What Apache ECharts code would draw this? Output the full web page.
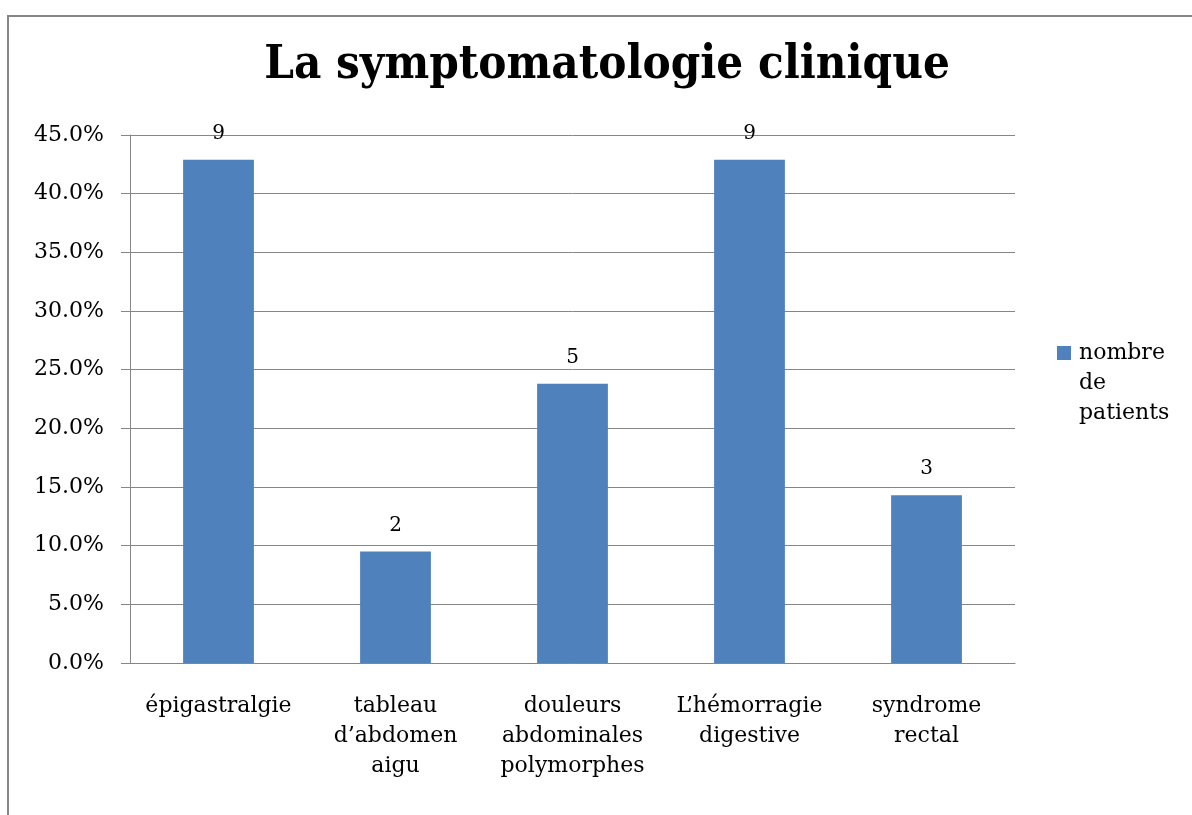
<!DOCTYPE html>
<html>
<head>
<meta charset="utf-8">
<script src="https://cdn.jsdelivr.net/npm/echarts@6/dist/echarts.min.js"></script>
<style>
  html, body { margin: 0; padding: 0; background: #fff; overflow: hidden; }
  #frame { position: absolute; left: 7px; top: 15px; width: 1400px; height: 1000px; border: 2px solid #868686; box-sizing: border-box; }
  #main { position: absolute; left: 0; top: 0; width: 1192px; height: 815px; }
</style>
</head>
<body>
<div id="frame"></div>
<div id="main"></div>
<script>
// données du graphique
const categories = [
  'épigastralgie',
  'tableau\nd\u2019abdomen\naigu',
  'douleurs\nabdominales\npolymorphes',
  'L\u2019hémorragie\ndigestive',
  'syndrome\nrectal'
]
const percentages = [42.9, 9.5, 23.8, 42.9, 14.3]
const patientCounts = [9, 2, 5, 9, 3]
const seriesName = 'nombre\nde\npatients'

const font = 'DejaVu Serif'
const chart = echarts.init(document.getElementById('main'))
chart.setOption({
  backgroundColor: 'transparent',
  animation: false,
  title: {
    text: 'La symptomatologie clinique',
    left: 602,
    textAlign: 'center',
    top: 37,
    textStyle: { fontFamily: 'DejaVu Serif Condensed', fontWeight: 'bold', fontSize: 47, color: '#000' }
  },
  grid: { left: 130, right: 177, top: 135, bottom: 152 },
  legend: {
    left: 1052,
    top: 333,
    itemWidth: 14,
    itemHeight: 74,
    icon: 'path://M0,0H14V14H0Z M0,74L0.01,74',
    textStyle: { fontFamily: font, fontSize: 22, color: '#000', lineHeight: 30, padding: [0, 0, 0, 3] },
    data: [seriesName]
  },
  xAxis: {
    type: 'category',
    data: categories,
    axisLine: { lineStyle: { color: '#868686', width: 1 } },
    axisTick: { length: 9, lineStyle: { color: '#868686' } },
    axisLabel: { fontFamily: font, fontSize: 22, color: '#000', lineHeight: 30, margin: 28, interval: 0 }
  },
  yAxis: {
    type: 'value',
    min: 0,
    max: 45,
    interval: 5,
    axisLine: { show: true, lineStyle: { color: '#868686' } },
    axisTick: { show: true, length: 9, lineStyle: { color: '#868686' } },
    splitLine: { lineStyle: { color: '#868686' } },
    axisLabel: {
      fontFamily: font, fontSize: 22, color: '#000', margin: 26,
      formatter: v => v.toFixed(1) + '%'
    }
  },
  series: [{
    name: seriesName,
    type: 'bar',
    barWidth: '40%',
    data: percentages,
    itemStyle: { color: '#4F81BD' },
    label: {
      show: true,
      position: 'top',
      distance: 16,
      fontFamily: font,
      fontSize: 20,
      color: '#000',
      formatter: p => patientCounts[p.dataIndex]
    }
  }]
})
window.addEventListener('resize', () => { chart.resize() })
</script>
</body>
</html>
